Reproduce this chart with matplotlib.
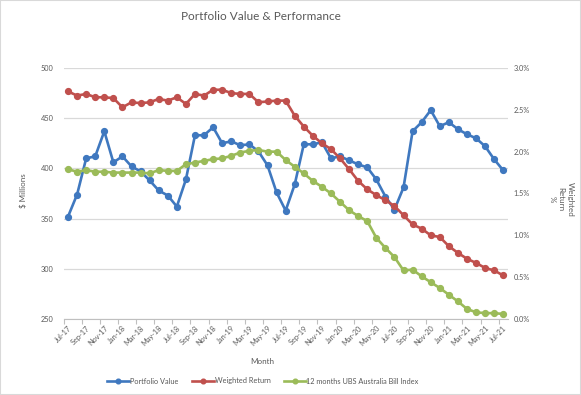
import matplotlib
matplotlib.use("Agg")
import matplotlib.pyplot as plt
import numpy as np
from matplotlib.patches import Rectangle

plt.rcParams['font.family'] = ['Lato', 'DejaVu Sans']

months = ["Jul-17", "Aug-17", "Sep-17", "Oct-17", "Nov-17", "Dec-17",
          "Jan-18", "Feb-18", "Mar-18", "Apr-18", "May-18", "Jun-18",
          "Jul-18", "Aug-18", "Sep-18", "Oct-18", "Nov-18", "Dec-18",
          "Jan-19", "Feb-19", "Mar-19", "Apr-19", "May-19", "Jun-19",
          "Jul-19", "Aug-19", "Sep-19", "Oct-19", "Nov-19", "Dec-19",
          "Jan-20", "Feb-20", "Mar-20", "Apr-20", "May-20", "Jun-20",
          "Jul-20", "Aug-20", "Sep-20", "Oct-20", "Nov-20", "Dec-20",
          "Jan-21", "Feb-21", "Mar-21", "Apr-21", "May-21", "Jun-21",
          "Jul-21"]

portfolio_value = [352, 374, 410, 412, 437, 406, 412, 402, 397, 388, 378, 373,
                   362, 389, 433, 433, 441, 425, 427, 423, 424, 417, 403, 376,
                   358, 384, 424, 424, 426, 410, 412, 408, 404, 401, 389, 372,
                   359, 381, 437, 446, 458, 442, 446, 439, 434, 430, 422, 409,
                   398]

weighted_return = [2.72, 2.67, 2.69, 2.65, 2.65, 2.64, 2.53, 2.59, 2.58, 2.59, 2.63, 2.61,
                   2.65, 2.57, 2.69, 2.67, 2.74, 2.74, 2.70, 2.69, 2.69, 2.59, 2.60, 2.61,
                   2.61, 2.43, 2.30, 2.19, 2.10, 2.03, 1.92, 1.79, 1.65, 1.55, 1.48, 1.42,
                   1.35, 1.24, 1.13, 1.08, 1.00, 0.98, 0.87, 0.79, 0.72, 0.67, 0.61, 0.58,
                   0.52]

bill_index = [1.79, 1.76, 1.78, 1.76, 1.76, 1.75, 1.75, 1.75, 1.75, 1.74, 1.78, 1.77,
              1.77, 1.85, 1.87, 1.89, 1.91, 1.92, 1.95, 1.99, 2.01, 2.02, 2.00, 2.00,
              1.90, 1.82, 1.74, 1.65, 1.58, 1.50, 1.40, 1.30, 1.23, 1.17, 0.97, 0.85,
              0.74, 0.58, 0.59, 0.51, 0.44, 0.37, 0.29, 0.21, 0.12, 0.08, 0.07, 0.07,
              0.06]

left_ticks = [250, 300, 350, 400, 450, 500]
right_ticks = [0.0, 0.5, 1.0, 1.5, 2.0, 2.5, 3.0]

c_blue = "#3F78BF"
c_red = "#C0504D"
c_green = "#9BBB59"
c_text = "#595959"
c_grid = "#D9D9D9"

W, H = 581, 395
fig = plt.figure(figsize=(W / 100, H / 100), dpi=100)
fig.patches.append(Rectangle((0, 0), 1, 1, transform=fig.transFigure,
                             fill=False, edgecolor="#D9D9D9", linewidth=1.5))

l, r, t, b = 63.5, 507.8, 68, 319
ax = fig.add_axes([l / W, 1 - b / H, (r - l) / W, (b - t) / H])
ax2 = ax.twinx()

x = np.arange(len(months))
lw = 1.9
ms = 4.2
h1, = ax.plot(x, portfolio_value, color=c_blue, lw=lw, marker='o', ms=ms, label="Portfolio Value")
h2, = ax2.plot(x, weighted_return, color=c_red, lw=lw, marker='o', ms=ms, label="Weighted Return")
h3, = ax2.plot(x, bill_index, color=c_green, lw=lw, marker='o', ms=ms,
               label="12 months UBS Australia Bill Index")

ax.set_xlim(-0.5, len(months) - 0.5)
ax.set_ylim(250, 500)
ax2.set_ylim(0, 3.0)
ax.set_yticks(left_ticks)
ax.set_yticklabels([str(v) for v in left_ticks])
ax2.set_yticks(right_ticks)
ax2.set_yticklabels([f"{v:.1f}%" for v in right_ticks])

ax.set_xticks(x[::2])
ax.set_xticklabels(months[::2], rotation=45, ha='right', rotation_mode='anchor')
ax.set_xticks(np.arange(-0.5, len(months), 2), minor=True)
ax.tick_params(axis='x', which='major', length=0, pad=4, labelsize=5.3, labelcolor=c_text)
ax.tick_params(axis='x', which='minor', length=3.5, color="#BFBFBF", width=0.8)
ax.tick_params(axis='y', length=0, pad=7, labelsize=5.3, labelcolor=c_text)
ax2.tick_params(axis='y', length=0, pad=4, labelsize=5.3, labelcolor=c_text)

ax.grid(axis='y', color=c_grid, lw=0.9)
ax.set_axisbelow(True)
for a in (ax, ax2):
    for s in ('top', 'left', 'right', 'bottom'):
        a.spines[s].set_visible(False)
ax.spines['bottom'].set_visible(True)
ax.spines['bottom'].set_color("#BFBFBF")
ax.spines['bottom'].set_linewidth(0.8)

fig.text(261 / W, 1 - 16 / H, "Portfolio Value & Performance", ha='center', va='center',
         fontsize=8.5, color=c_text)
fig.text(23 / W, 1 - 191 / H, "$ Millions", rotation=90, ha='center', va='center',
         fontsize=5.8, color=c_text)
fig.text(561 / W, 1 - 199 / H, "Weighted\nReturn\n%", rotation=270, ha='center', va='center',
         fontsize=5.8, color=c_text, linespacing=1.35, multialignment='center')
fig.text(262 / W, 1 - 361 / H, "Month", ha='center', va='center', fontsize=5.8, color=c_text)

fig.legend(handles=[h1, h2, h3], loc='center', bbox_to_anchor=(263 / W, 1 - 381 / H),
           ncol=3, frameon=False, fontsize=5.3, handlelength=3.0, handletextpad=0.1,
           columnspacing=1.8, labelcolor=c_text, markerscale=0.8)

fig.savefig("out.png", dpi=100)
